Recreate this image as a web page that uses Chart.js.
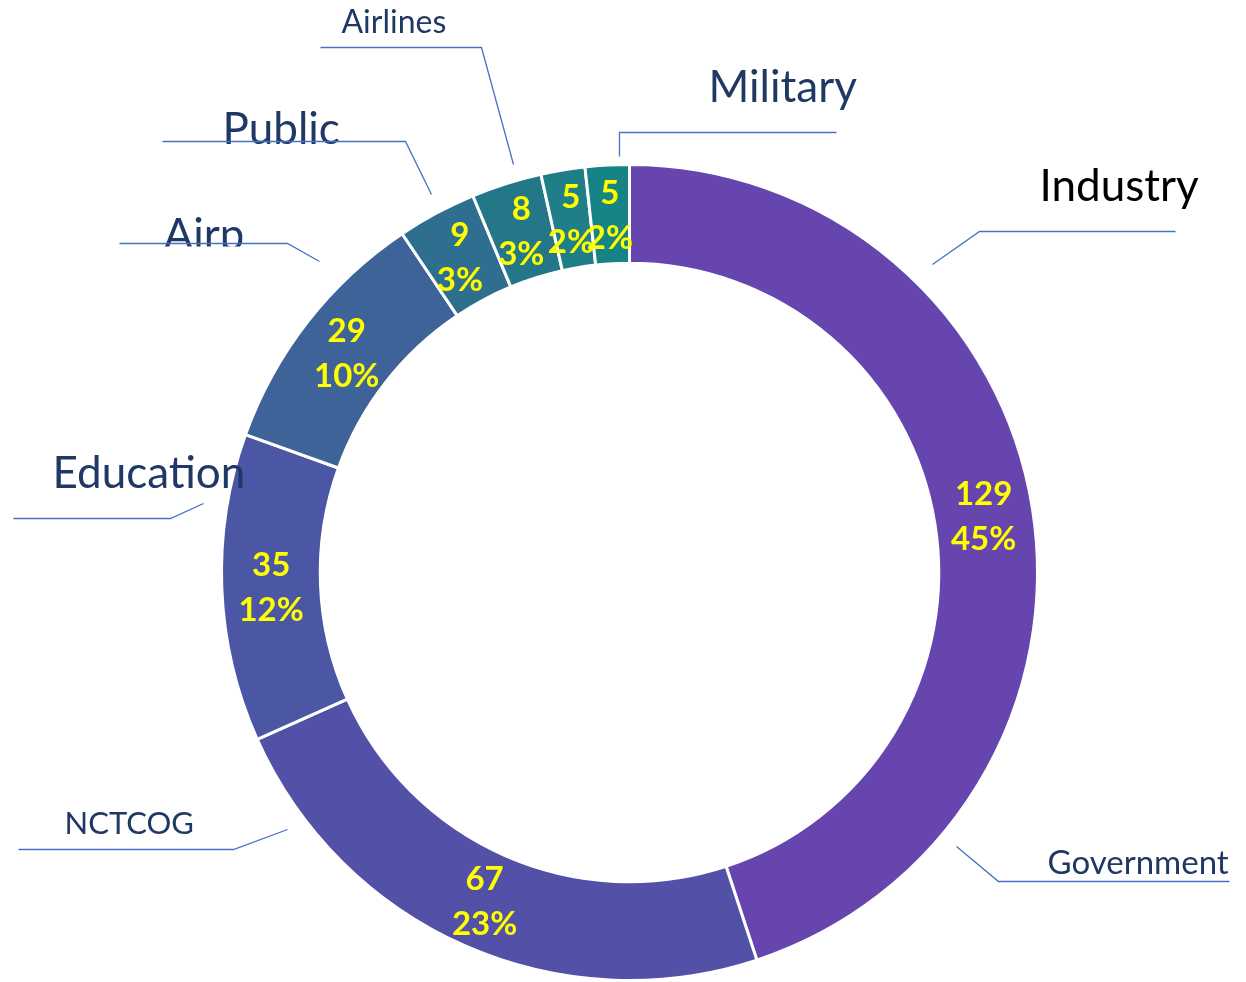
<!DOCTYPE html>
<html>
<head>
<meta charset="utf-8">
<script src="https://cdn.jsdelivr.net/npm/chart.js@4/dist/chart.umd.min.js"></script>
<style>
  html, body { margin: 0; padding: 0; background: #ffffff; }
  #wrap { width: 1246px; height: 982px; position: relative; }
</style>
</head>
<body>
<div id="wrap"><canvas id="donutChart"></canvas></div>
<script>
/* ==============================
   DATA
============================== */
const categories = ["Government", "NCTCOG", "Education", "Airport", "Public", "Airlines", "Industry", "Military"];
const counts = [129, 67, 35, 29, 9, 8, 5, 5];
const sliceColors = ["#6645AE", "#5350A8", "#4B57A4", "#3D6398", "#2E6E8F", "#237789", "#1F7E87", "#168484"];

/* ==============================
   CALLOUT LAYOUT
   offsets in px from doughnut centre: anchor -> elbow -> end, text at (tx, ty baseline)
============================== */
const callouts = [
  { name: "Industry",   size: 44, color: "#000000", a: [303, -308], e: [350, -341], z: [546, -341], t: [410, -372] },
  { name: "Government", size: 33, color: "#203864", a: [327, 274],  e: [369, 309],  z: [600, 309],  t: [418, 301] },
  { name: "NCTCOG",     size: 31, color: "#203864", a: [-342, 257], e: [-396, 277], z: [-611, 277], t: [-565, 261] },
  { name: "Education",  size: 44, color: "#203864", a: [-426, -69], e: [-459, -54], z: [-616, -54], t: [-577, -85] },
  { name: "Airport",    size: 44, color: "#203864", a: [-310, -311], e: [-342, -329], z: [-510, -329], t: [-466, -323], clip: [-470, -370, 83, 44] },
  { name: "Public",     size: 44, color: "#203864", a: [-198, -378], e: [-224, -431], z: [-467, -431], t: [-407, -429] },
  { name: "Airlines",   size: 32, color: "#203864", a: [-116, -408], e: [-148, -525], z: [-309, -525], t: [-288, -540] },
  { name: "Military",   size: 44, color: "#203864", a: [-10, -416],  e: [-10, -440],  z: [207, -440],  t: [79, -471] },
];

const total = counts.reduce((s, v) => s + v, 0);

/* ==============================
   PLUGINS
============================== */
const sliceLabels = {
  id: "sliceLabels",
  afterDatasetsDraw(chart) {
    const { ctx } = chart;
    const meta = chart.getDatasetMeta(0);
    ctx.save();
    ctx.font = "bold 33px Lato, 'Noto Sans', sans-serif";
    ctx.fillStyle = "#FFFF00";
    ctx.textAlign = "center";
    ctx.textBaseline = "middle";
    meta.data.forEach((arc, i) => {
      const p = arc.getCenterPoint();
      const pct = Math.round((counts[i] / total) * 100) + "%";
      ctx.fillText(String(counts[i]), p.x, p.y - 21);
      ctx.fillText(pct, p.x, p.y + 24);
    });
    ctx.restore();
  },
};

const calloutLabels = {
  id: "calloutLabels",
  afterDraw(chart) {
    const { ctx } = chart;
    const arc = chart.getDatasetMeta(0).data[0];
    const cx = arc.x, cy = arc.y;
    ctx.save();
    callouts.forEach((c) => {
      // text
      ctx.save();
      if (c.clip) {
        ctx.beginPath();
        ctx.rect(cx + c.clip[0], cy + c.clip[1], c.clip[2], c.clip[3]);
        ctx.clip();
      }
      ctx.font = c.size + "px Lato, 'Noto Sans', sans-serif";
      ctx.fillStyle = c.color;
      ctx.textAlign = "left";
      ctx.textBaseline = "alphabetic";
      ctx.fillText(c.name, cx + c.t[0], cy + c.t[1]);
      ctx.restore();

      // leader line
      ctx.beginPath();
      ctx.moveTo(cx + c.a[0], cy + c.a[1]);
      ctx.lineTo(cx + c.e[0], cy + c.e[1]);
      ctx.lineTo(cx + c.z[0], cy + c.z[1]);
      ctx.strokeStyle = "#4472C4";
      ctx.lineWidth = 1.3;
      ctx.stroke();
    });
    ctx.restore();
  },
};

/* ==============================
   CHART
============================== */
new Chart(document.getElementById("donutChart"), {
  type: "doughnut",
  data: {
    labels: categories,
    datasets: [
      {
        data: counts,
        backgroundColor: sliceColors,
        borderColor: "#ffffff",
        borderWidth: 3,
      },
    ],
  },
  options: {
    responsive: true,
    maintainAspectRatio: false,
    animation: false,
    cutout: "75.8%",
    layout: {
      padding: { top: 163, bottom: 0, left: 220, right: 207 },
    },
    plugins: {
      legend: { display: false },
      tooltip: { enabled: false },
    },
  },
  plugins: [sliceLabels, calloutLabels],
});
</script>
</body>
</html>
